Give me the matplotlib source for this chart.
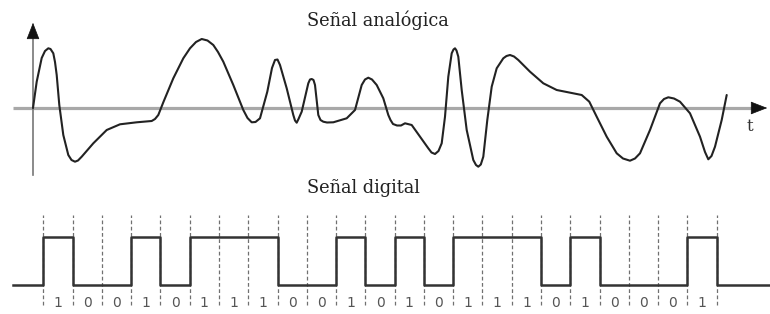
import numpy as np
import matplotlib.pyplot as plt

# señal analógica (t, amplitud)
t_an = [0, 3.7, 8.7, 12, 15.3, 17.5, 20.3, 22, 23.7, 26.3, 30.3, 35.3, 38.5, 42, 45,
        48.7, 60.3, 73.7, 87, 103.7, 118.7, 122, 125.3, 130.3, 140.3, 150.3, 157,
        163, 168.7, 174.5, 180.3, 185, 190.3, 200.3, 210.3, 214.5, 218.7, 222.5, 227,
        234.3, 239, 242, 244.5, 247, 253.7, 260.3, 262, 263.7, 265.5, 268.7, 275.3,
        277, 278.7, 280.5, 282, 285.3, 287.5, 290.3, 294, 300.3, 313.7, 322, 328.7,
        332, 335.3, 339, 343.7, 350.3, 355.3, 357.5, 360, 364, 368, 372, 378.7, 387,
        395.3, 398.5, 402, 405.5, 408.7, 412, 415.3, 418.7, 420.5, 422, 423.5, 425.3,
        428.7, 433.7, 440.3, 443, 445.3, 447.8, 450.3, 454.3, 458.7, 463.7, 470.3,
        473.5, 477, 481, 485.3, 497, 510.3, 523.7, 537, 548.7, 556.3, 563.7, 573.7,
        583.7, 590, 597, 602, 607, 617, 627, 631, 635.3, 641, 647, 657, 667, 672,
        675.3, 678.5, 682, 688.7, 693.7]
a_an = [0, 26.3, 50, 57, 59.7, 59, 54.7, 46, 33, 3, -27, -47, -52, -53.7, -52.5,
        -48.7, -35.3, -22, -16.3, -14.3, -13, -11, -7, 5.7, 29.7, 49.7, 59.7,
        66, 69, 67.5, 63, 56, 46.3, 23, -2, -10, -14.3, -14, -10.3,
        16.3, 40, 48, 48.5, 43, 19.7, -7, -12.5, -14.7, -11, -3.7, 24.7,
        28.5, 29, 28, 23, -7, -12, -13.7, -14.5, -14.3, -10.3, -2, 23,
        28.5, 30.3, 28.5, 23, 9.7, -7, -12, -16, -17.5, -17.5, -15.3, -17, -28.7,
        -40.3, -44.5, -46, -43, -35.3, -8.7, 31.3, 54.7, 58.5, 59.7, 57.5, 51.3,
        18, -22, -52, -57, -58.7, -56.5, -48.7, -12, 21.3, 39.7, 49.7,
        52, 53, 51.5, 48, 36.3, 24.7, 18, 15.3, 13, 6.3, -8.7, -28.7,
        -45.3, -50.5, -52.7, -50.5, -45.3, -22, 4.7, 9, 10.7, 9.5, 6.3, -5.3, -28.7, -44,
        -51.3, -48, -38.7, -12, 13]

# señal digital
bits = [1, 0, 0, 1, 0, 1, 1, 1, 0, 0, 1, 0, 1, 0, 1, 1, 1, 0, 1, 0, 0, 0, 1]

W, H = 770, 314
fig = plt.figure(figsize=(W / 100, H / 100), dpi=100)
fig.patch.set_facecolor('white')

# --- panel analógico ---
top = 180
ax1 = fig.add_axes([0, 1 - top / H, 1, top / H])
ax1.set_xlim(-33, 737)
ax1.set_ylim(108 - top, 108)
ax1.axis('off')

ax1.plot([-20, 725], [0, 0], color='#a8a8a8', lw=2.3, solid_capstyle='butt', zorder=1)
ax1.annotate('', xy=(737, 0), xytext=(722, 0),
             arrowprops=dict(arrowstyle='-|>,head_length=0.9,head_width=0.35',
                             color='#111111', lw=0.5, mutation_scale=12))
ax1.plot([0, 0], [-67, 76], color='#777777', lw=1.2, zorder=1)
ax1.annotate('', xy=(0, 88), xytext=(0, 74),
             arrowprops=dict(arrowstyle='-|>,head_length=0.9,head_width=0.35',
                             color='#111111', lw=0.5, mutation_scale=12))
ax1.plot(t_an, a_an, color='#222222', lw=1.5, solid_joinstyle='round',
         solid_capstyle='round', zorder=3)
ax1.text(717, -23, 't', fontsize=12, family='DejaVu Serif', color='#333333',
         ha='center', va='baseline')

fig.text(378 / W, 1 - 26 / H, 'Señal analógica', fontsize=12.8, family='DejaVu Serif',
         color='#222222', ha='center', va='baseline')

# --- panel digital ---
ax2 = fig.add_axes([0, 0, 1, (H - top) / H])
x0, step = 43.3, 29.28
lo, hi = 284.5, 236.5
unit = lo - hi
ax2.set_xlim(-x0 / step, (W - x0) / step)
ax2.set_ylim((lo - H) / unit, (lo - top) / unit)
ax2.axis('off')

n = len(bits)
xs = [(13 - x0) / step] + list(range(n + 1)) + [(W - x0) / step]
ys = [0] + bits + [0, 0]
ax2.plot(xs, ys, drawstyle='steps-post', color='#333333', lw=1.8, zorder=3)

for i in range(n + 1):
    ax2.plot([i, i], [(lo - 305) / unit, (lo - 215) / unit], color='#707070',
             lw=0.9, dashes=(3, 2), zorder=2)
for i, b in enumerate(bits):
    ax2.text(i + 0.5, (lo - 307) / unit, str(b), fontsize=10, color='#555555',
             ha='center', va='baseline', family='DejaVu Sans')

fig.text(363 / W, 1 - 193 / H, 'Señal digital', fontsize=12.8, family='DejaVu Serif',
         color='#222222', ha='center', va='baseline')

fig.savefig('out.png', dpi=100)
